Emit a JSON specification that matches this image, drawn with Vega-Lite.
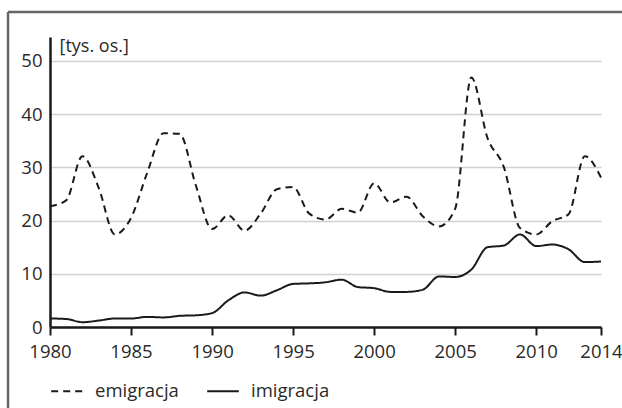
{
  "$schema": "https://vega.github.io/schema/vega-lite/v6.json",
  "width": 551,
  "height": 290,
  "autosize": "none",
  "padding": {"left": 50, "top": 37, "right": 21, "bottom": 81},
  "background": "white",
  "config": {
    "font": "Open Sans",
    "view": {"stroke": null},
    "axis": {"labelFont": "Open Sans", "labelFontSize": 18.5, "labelColor": "#2a2a2a", "titleFont": "Open Sans"}
  },
  "datasets": {
    "series": [
      {"year": 1980, "series": "emigracja", "value": 22.7}, {"year": 1981, "series": "emigracja", "value": 23.8},
      {"year": 1982, "series": "emigracja", "value": 32.1}, {"year": 1983, "series": "emigracja", "value": 26.2},
      {"year": 1984, "series": "emigracja", "value": 17.4}, {"year": 1985, "series": "emigracja", "value": 20.5},
      {"year": 1986, "series": "emigracja", "value": 29.0}, {"year": 1987, "series": "emigracja", "value": 36.4},
      {"year": 1988, "series": "emigracja", "value": 36.3}, {"year": 1989, "series": "emigracja", "value": 26.6},
      {"year": 1990, "series": "emigracja", "value": 18.4}, {"year": 1991, "series": "emigracja", "value": 21.0},
      {"year": 1992, "series": "emigracja", "value": 18.1}, {"year": 1993, "series": "emigracja", "value": 21.3},
      {"year": 1994, "series": "emigracja", "value": 25.9}, {"year": 1995, "series": "emigracja", "value": 26.3},
      {"year": 1996, "series": "emigracja", "value": 21.3}, {"year": 1997, "series": "emigracja", "value": 20.2},
      {"year": 1998, "series": "emigracja", "value": 22.2}, {"year": 1999, "series": "emigracja", "value": 21.5},
      {"year": 2000, "series": "emigracja", "value": 27.0}, {"year": 2001, "series": "emigracja", "value": 23.4},
      {"year": 2002, "series": "emigracja", "value": 24.5}, {"year": 2003, "series": "emigracja", "value": 20.8},
      {"year": 2004, "series": "emigracja", "value": 18.9}, {"year": 2005, "series": "emigracja", "value": 22.2},
      {"year": 2006, "series": "emigracja", "value": 46.9}, {"year": 2007, "series": "emigracja", "value": 35.5},
      {"year": 2008, "series": "emigracja", "value": 30.1}, {"year": 2009, "series": "emigracja", "value": 18.6},
      {"year": 2010, "series": "emigracja", "value": 17.4}, {"year": 2011, "series": "emigracja", "value": 19.9},
      {"year": 2012, "series": "emigracja", "value": 21.2}, {"year": 2013, "series": "emigracja", "value": 32.1},
      {"year": 2014, "series": "emigracja", "value": 28.1},
      {"year": 1980, "series": "imigracja", "value": 1.6}, {"year": 1981, "series": "imigracja", "value": 1.5},
      {"year": 1982, "series": "imigracja", "value": 0.9}, {"year": 1983, "series": "imigracja", "value": 1.2},
      {"year": 1984, "series": "imigracja", "value": 1.6}, {"year": 1985, "series": "imigracja", "value": 1.6},
      {"year": 1986, "series": "imigracja", "value": 1.9}, {"year": 1987, "series": "imigracja", "value": 1.8},
      {"year": 1988, "series": "imigracja", "value": 2.1}, {"year": 1989, "series": "imigracja", "value": 2.2},
      {"year": 1990, "series": "imigracja", "value": 2.6}, {"year": 1991, "series": "imigracja", "value": 5.0},
      {"year": 1992, "series": "imigracja", "value": 6.5}, {"year": 1993, "series": "imigracja", "value": 5.9},
      {"year": 1994, "series": "imigracja", "value": 6.9}, {"year": 1995, "series": "imigracja", "value": 8.1},
      {"year": 1996, "series": "imigracja", "value": 8.2}, {"year": 1997, "series": "imigracja", "value": 8.4},
      {"year": 1998, "series": "imigracja", "value": 8.9}, {"year": 1999, "series": "imigracja", "value": 7.5},
      {"year": 2000, "series": "imigracja", "value": 7.3}, {"year": 2001, "series": "imigracja", "value": 6.6},
      {"year": 2002, "series": "imigracja", "value": 6.6}, {"year": 2003, "series": "imigracja", "value": 7.0},
      {"year": 2004, "series": "imigracja", "value": 9.5}, {"year": 2005, "series": "imigracja", "value": 9.4},
      {"year": 2006, "series": "imigracja", "value": 10.8}, {"year": 2007, "series": "imigracja", "value": 15.0},
      {"year": 2008, "series": "imigracja", "value": 15.3}, {"year": 2009, "series": "imigracja", "value": 17.4},
      {"year": 2010, "series": "imigracja", "value": 15.2}, {"year": 2011, "series": "imigracja", "value": 15.5},
      {"year": 2012, "series": "imigracja", "value": 14.6}, {"year": 2013, "series": "imigracja", "value": 12.2},
      {"year": 2014, "series": "imigracja", "value": 12.3}
    ],
    "frame": [{"left": 1977.41, "right": 2020, "top": 59.2, "bottom": -20}]
  },
  "layer": [
    {
      "data": {"name": "series"},
      "mark": {"type": "line", "interpolate": "monotone", "color": "#1a1a1a", "strokeWidth": 2},
      "encoding": {
        "x": {
          "field": "year", "type": "quantitative",
          "scale": {"domain": [1980, 2014], "nice": false, "zero": false},
          "axis": {
            "title": null, "values": [1980, 1985, 1990, 1995, 2000, 2005, 2010, 2014], "format": "d",
            "grid": false, "domainColor": "#1a1a1a", "domainWidth": 2.5, "tickColor": "#1a1a1a", "tickWidth": 2,
            "tickSize": 8, "labelPadding": 7, "labelFlush": false
          }
        },
        "y": {
          "field": "value", "type": "quantitative",
          "scale": {"domain": [0, 54.5], "nice": false},
          "axis": {
            "title": "[tys. os.]", "titleAngle": 0, "titleAlign": "left", "titleBaseline": "middle",
            "titleX": 9, "titleY": 9, "titleFontSize": 18, "titleFontWeight": "normal", "titleColor": "#2a2a2a",
            "values": [0, 10, 20, 30, 40, 50], "grid": true, "gridColor": "#d0d0d0", "gridWidth": 1.5,
            "ticks": false, "labelPadding": 8, "domainColor": "#1a1a1a", "domainWidth": 2.5
          }
        },
        "strokeDash": {
          "field": "series", "type": "nominal",
          "scale": {"domain": ["emigracja", "imigracja"], "range": [[7, 5], [1, 0]]},
          "legend": {
            "title": null, "orient": "none", "direction": "horizontal", "legendX": 0, "legendY": 337,
            "symbolType": "stroke", "symbolSize": 1000, "symbolStrokeWidth": 2, "symbolStrokeColor": "#1a1a1a",
            "labelFontSize": 18.5, "labelColor": "#2a2a2a", "labelFont": "Open Sans", "labelOffset": 11,
            "columnPadding": 24
          }
        }
      }
    },
    {
      "data": {"name": "frame"},
      "mark": {"type": "rule", "color": "#666666", "strokeWidth": 2.5},
      "encoding": {
        "x": {"field": "left", "type": "quantitative"},
        "y": {"field": "top", "type": "quantitative"},
        "y2": {"field": "bottom"}
      }
    },
    {
      "data": {"name": "frame"},
      "mark": {"type": "rule", "color": "#666666", "strokeWidth": 2.5},
      "encoding": {
        "x": {"field": "left", "type": "quantitative"},
        "x2": {"field": "right"},
        "y": {"field": "top", "type": "quantitative"}
      }
    }
  ]
}
